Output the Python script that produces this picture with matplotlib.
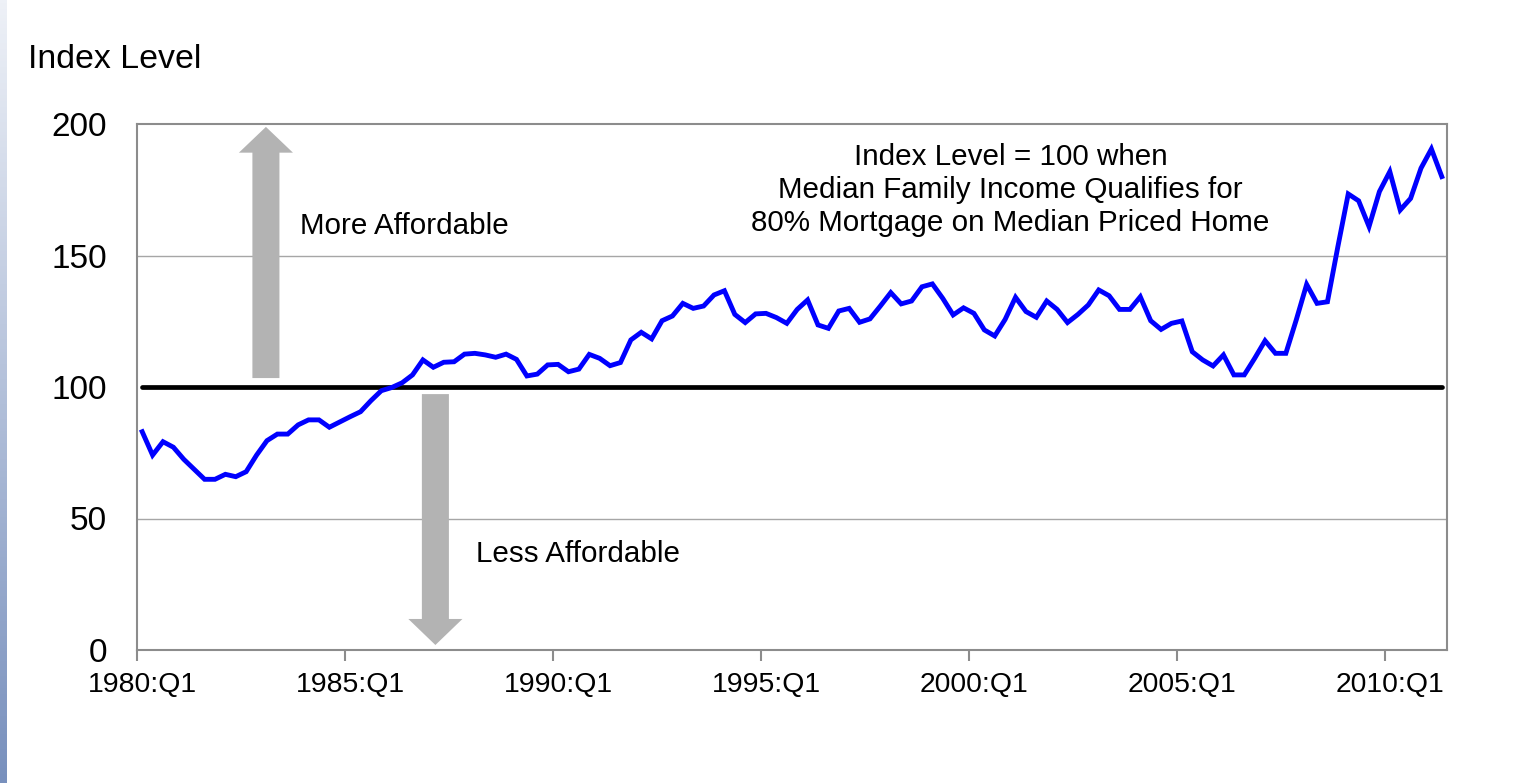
import matplotlib
matplotlib.use("Agg")
import matplotlib.pyplot as plt
from matplotlib.patches import Polygon
from matplotlib.colors import LinearSegmentedColormap
import numpy as np

plt.rcParams['font.family'] = ['Liberation Sans', 'DejaVu Sans']

# quarterly affordability index, 1980:Q1 .. 2011:Q2
index_level = [
    83.0, 74.1, 79.2, 77.1, 72.5, 68.7, 64.9, 64.9, 66.8, 65.9,
    67.8, 74.1, 79.6, 82.1, 82.1, 85.6, 87.5, 87.5, 84.7, 86.7,
    88.7, 90.6, 94.8, 98.6, 99.8, 101.6, 104.6, 110.3, 107.5, 109.4,
    109.6, 112.5, 112.8, 112.2, 111.3, 112.5, 110.5, 104.2, 104.9, 108.4,
    108.6, 105.8, 106.8, 112.4, 110.9, 108.1, 109.3, 117.9, 120.8, 118.3,
    125.2, 127.0, 131.8, 129.9, 130.8, 135.0, 136.6, 127.6, 124.5, 127.8,
    128.0, 126.4, 124.2, 129.5, 133.1, 123.6, 122.3, 128.9, 129.9, 124.6,
    125.9, 130.8, 135.9, 131.6, 132.7, 138.1, 139.2, 133.7, 127.4, 130.1,
    128.0, 121.7, 119.4, 125.7, 134.1, 128.7, 126.5, 132.7, 129.5, 124.5,
    127.6, 131.2, 136.9, 134.7, 129.5, 129.5, 134.3, 125.2, 121.9, 124.2,
    125.1, 113.4, 110.3, 108.0, 112.2, 104.6, 104.6, 110.9, 117.6, 112.8,
    112.8, 125.5, 139.0, 131.8, 132.4, 153.3, 173.4, 170.8, 161.0, 174.3,
    181.9, 167.3, 171.7, 183.2, 190.5, 180.0,
]
quarters = ["%d:Q%d" % (1980 + k // 4, k % 4 + 1) for k in range(len(index_level))]
tick_years = [1980, 1985, 1990, 1995, 2000, 2005, 2010]
baseline = 100

W, H = 1526, 783
fig = plt.figure(figsize=(W / 100, H / 100), dpi=100)

# slide background strip on the left
strip = fig.add_axes([0, 0, 7 / W, 1])
grad = np.linspace(0, 1, 256).reshape(-1, 1)
cmap = LinearSegmentedColormap.from_list("strip", ["#eef1f7", "#7890bd"])
strip.imshow(grad, aspect="auto", cmap=cmap, extent=[0, 1, 0, 1], origin="upper")
strip.axis("off")

ax = fig.add_axes([137 / W, 133 / H, 1310 / W, 526 / H])
x = np.arange(len(index_level))

ax.set_xlim(-0.5, len(index_level) - 0.5)
ax.set_ylim(0, 200)

for g in [50, 150]:
    ax.axhline(g, color="#a6a6a6", lw=1.0, zorder=1)

ax.plot(x, [baseline] * len(x), color="black", lw=3.4, solid_capstyle="round", zorder=3)
ax.plot(x, index_level, color="#0000ff", lw=3.5, solid_joinstyle="miter", zorder=4)

# arrows
arrow_c = "#b3b3b3"
ux, hw, sw = 11.9, 2.6, 1.3
up = [(ux - sw, 103.4), (ux + sw, 103.4), (ux + sw, 189.1), (ux + hw, 189.1),
      (ux, 198.9), (ux - hw, 189.1), (ux - sw, 189.1)]
dx = 28.2
down = [(dx - sw, 97.3), (dx + sw, 97.3), (dx + sw, 11.8), (dx + hw, 11.8),
        (dx, 1.9), (dx - hw, 11.8), (dx - sw, 11.8)]
for pts in (up, down):
    ax.add_patch(Polygon(pts, closed=True, facecolor=arrow_c, edgecolor="none", zorder=2))

ax.text(15.2, 161.2, "More Affordable", fontsize=21.3, va="center", ha="left")
ax.text(32.1, 36.5, "Less Affordable", fontsize=21.3, va="center", ha="left")
ax.text(83.5, 174.9, "Index Level = 100 when\nMedian Family Income Qualifies for\n80% Mortgage on Median Priced Home",
        fontsize=21.3, va="center", ha="center", multialignment="center", linespacing=1.21)

# axes styling
for s in ax.spines.values():
    s.set_color("#8c8c8c")
    s.set_linewidth(1.5)

ax.set_yticks([0, 50, 100, 150, 200])
ax.tick_params(axis="y", length=0, pad=21.6, labelsize=24)

pos = [quarters.index("%d:Q1" % y) for y in tick_years]
ax.set_xticks(pos)
ax.set_xticklabels(["%d:Q1" % y for y in tick_years])
ax.set_xticks([p - 0.5 for p in pos], minor=True)
ax.tick_params(axis="x", which="major", length=0, pad=16, labelsize=20.4)
ax.tick_params(axis="x", which="minor", length=8, width=1.5, color="#8c8c8c", direction="out")

fig.text(28 / W, 1 - 60 / H, "Index Level", fontsize=24.4, va="center", ha="left")

fig.savefig("out.png", dpi=100)
